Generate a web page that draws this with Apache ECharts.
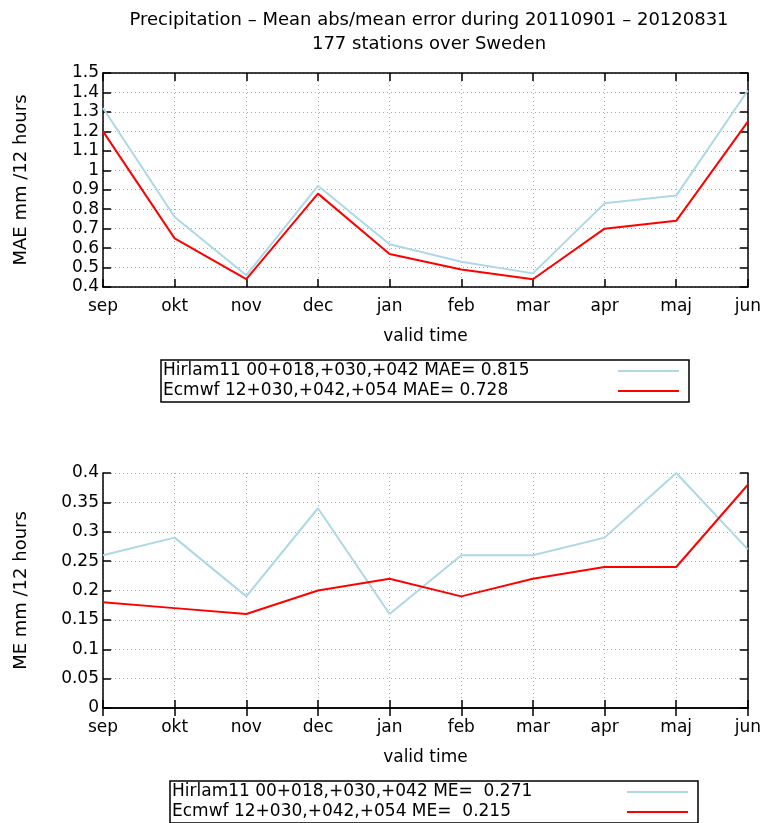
<!DOCTYPE html>
<html>
<head>
<meta charset="utf-8">
<script src="https://cdn.jsdelivr.net/npm/echarts@6/dist/echarts.min.js"></script>
<style>html,body{margin:0;padding:0;background:#fff}#c{width:764px;height:823px}</style>
</head>
<body>
<div id="c"></div>
<script>
const months = ['sep','okt','nov','dec','jan','feb','mar','apr','maj','jun'];
const hirlamMAE = [1.32, 0.76, 0.46, 0.92, 0.62, 0.53, 0.47, 0.83, 0.87, 1.41];
const ecmwfMAE  = [1.20, 0.65, 0.44, 0.88, 0.57, 0.49, 0.44, 0.70, 0.74, 1.25];
const hirlamME  = [0.26, 0.29, 0.19, 0.34, 0.16, 0.26, 0.26, 0.29, 0.40, 0.27];
const ecmwfME   = [0.18, 0.17, 0.16, 0.20, 0.22, 0.19, 0.22, 0.24, 0.24, 0.38];
const maeNames = ['Hirlam11 00+018,+030,+042 MAE= 0.815', 'Ecmwf 12+030,+042,+054 MAE= 0.728'];
const meNames  = ['Hirlam11 00+018,+030,+042 ME=  0.271', 'Ecmwf 12+030,+042,+054 ME=  0.215'];
const titleText = 'Precipitation \u2013 Mean abs/mean error during 20110901 \u2013 20120831\n177 stations over Sweden';
const maeAxisName = 'MAE mm /12 hours';
const meAxisName = 'ME mm /12 hours';
const xAxisName = 'valid time';
const maeRange = [0.4, 1.5, 0.1];
const meRange = [0, 0.4, 0.05];

const FONT = 'DejaVu Sans';
const blue = '#add8e6', red = '#ff0000';
const chart = echarts.init(document.getElementById('c'), null, {renderer: 'canvas'});

function xAx(gi, show) {
  return {
    type: 'category', gridIndex: gi, data: months, boundaryGap: false,
    position: show ? 'bottom' : 'top',
    name: show ? xAxisName : '', nameLocation: 'middle', nameGap: 41,
    nameTextStyle: {fontFamily: FONT, fontSize: 17, color: '#000'},
    axisLine: {show: true, lineStyle: {color: '#000', width: 1.5}},
    axisTick: {show: true, inside: true, length: 8, alignWithLabel: true, lineStyle: {color: '#000', width: 1.5}},
    axisLabel: {show: show, fontFamily: FONT, fontSize: 17, color: '#000', margin: 11},
    splitLine: {show: show, lineStyle: {color: '#aaa', type: [1, 3], width: 1}}
  };
}
function yAx(gi, r, name, show) {
  return {
    type: 'value', gridIndex: gi, min: r[0], max: r[1], interval: r[2],
    position: show ? 'left' : 'right',
    name: show ? name : '', nameLocation: 'middle', nameGap: 73,
    nameTextStyle: {fontFamily: FONT, fontSize: 18, color: '#000'},
    axisLine: {show: true, lineStyle: {color: '#000', width: 1.5}},
    axisTick: {show: true, inside: true, length: 8, lineStyle: {color: '#000', width: 1.5}},
    axisLabel: {show: show, fontFamily: FONT, fontSize: 17, color: '#000', margin: 4,
      formatter: v => String(+v.toFixed(2))},
    splitLine: {show: show, lineStyle: {color: '#aaa', type: [1, 3], width: 1}}
  };
}
function legend(top, left, names) {
  return {
    top: top, left: left, orient: 'vertical', align: 'right', data: names,
    icon: 'rect', itemWidth: 61, itemHeight: 2, itemGap: 0,
    borderColor: '#000', borderWidth: 1.5, borderRadius: 0, padding: [1, 10, 1, 2],
    formatter: n => '{a|' + n + '}',
    textStyle: {fontFamily: FONT, fontSize: 17, color: '#000', lineHeight: 20,
      rich: {a: {fontFamily: FONT, fontSize: 17, color: '#000', width: 450, align: 'left', lineHeight: 20}}},
    selectedMode: false
  };
}
function line(name, xi, yi, data, color) {
  return {type: 'line', name: name, xAxisIndex: xi, yAxisIndex: yi, data: data,
    symbol: 'none', lineStyle: {color: color, width: 2}, itemStyle: {color: color}, animation: false};
}

chart.setOption({
  backgroundColor: '#fff',
  animation: false,
  title: {text: titleText, left: 424, top: 3, textAlign: 'center',
    textStyle: {fontFamily: FONT, fontSize: 18, fontWeight: 'normal', color: '#000', lineHeight: 24}},
  grid: [
    {left: 103, right: 13, top: 73, height: 214},
    {left: 103, right: 13, top: 473, height: 235}
  ],
  xAxis: [xAx(0, true), xAx(0, false), xAx(1, true), xAx(1, false)],
  yAxis: [yAx(0, maeRange, maeAxisName, true), yAx(0, maeRange, '', false),
          yAx(1, meRange, meAxisName, true), yAx(1, meRange, '', false)],
  legend: [legend(360, 161, maeNames), legend(781, 170, meNames)],
  series: [
    line(maeNames[0], 0, 0, hirlamMAE, blue),
    line(maeNames[1], 0, 0, ecmwfMAE, red),
    line(meNames[0], 2, 2, hirlamME, blue),
    line(meNames[1], 2, 2, ecmwfME, red)
  ]
});
</script>
</body>
</html>
